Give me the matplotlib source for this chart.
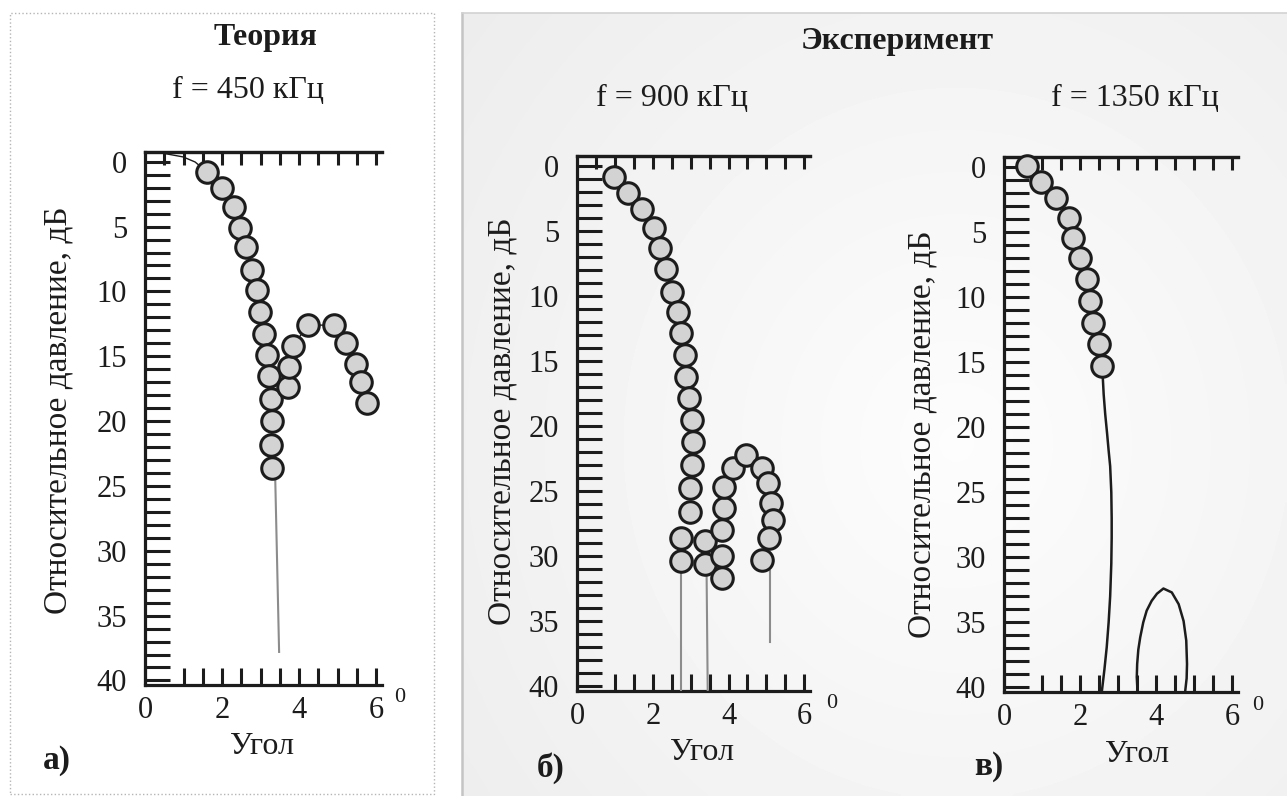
import numpy as np
import matplotlib
matplotlib.use("Agg")
import matplotlib.pyplot as plt
from matplotlib.ticker import MultipleLocator, FixedLocator, NullFormatter
from matplotlib.patches import Rectangle
from matplotlib.lines import Line2D

plt.rcParams['font.family'] = ['Liberation Serif', 'DejaVu Serif']

W, H = 1287, 796

# --- panel a: theory, 450 kHz ---
a_main_x = [1.61, 2.00, 2.31, 2.47, 2.62, 2.78, 2.91, 2.99, 3.09, 3.17, 3.22, 3.27, 3.30, 3.27, 3.30]
a_main_y = [0.79, 2.02, 3.48, 5.10, 6.56, 8.33, 9.87, 11.56, 13.25, 14.94, 16.56, 18.33, 20.02, 21.87, 23.63]
a_lobe_x = [3.71, 3.74, 3.84, 4.23, 4.91, 5.22, 5.48, 5.61, 5.77]
a_lobe_y = [17.4, 15.8, 14.2, 12.6, 12.6, 14.0, 15.6, 17.0, 18.6]
a_start_x = [0.44, 0.99, 1.30, 1.61]
a_start_y = [-0.67, -0.37, 0.02, 0.79]
a_drop_x = [3.38, 3.48]
a_drop_y = [24.5, 37.8]

# --- panel b: experiment, 900 kHz ---
b_main_x = [0.97, 1.34, 1.71, 2.03, 2.18, 2.34, 2.50, 2.66, 2.74, 2.84, 2.89, 2.95, 3.03, 3.05,
            3.03, 2.97, 2.97, 2.74, 2.74]
b_main_y = [0.87, 2.10, 3.33, 4.79, 6.33, 7.94, 9.71, 11.25, 12.87, 14.56, 16.25, 17.87, 19.56, 21.25,
            23.02, 24.79, 26.63, 28.56, 30.33]
b_pair_x = [3.37, 3.37]
b_pair_y = [28.8, 30.56]
b_lobe_x = [3.82, 3.82, 3.82, 3.89, 3.89, 4.11, 4.47, 4.89, 5.03, 5.13, 5.18, 5.08, 4.89]
b_lobe_y = [31.7, 30.0, 28.0, 26.3, 24.7, 23.25, 22.25, 23.2, 24.4, 25.9, 27.25, 28.6, 30.3]
b_drops = [([2.74, 2.74], [31.1, 40.35]),
           ([3.42, 3.45], [31.1, 40.35]),
           ([5.10, 5.10], [31.1, 36.6])]

# --- panel c: experiment, 1350 kHz ---
c_pts_x = [0.61, 0.97, 1.37, 1.71, 1.82, 2.00, 2.18, 2.26, 2.34, 2.50, 2.58]
c_pts_y = [-0.05, 1.2, 2.4, 3.9, 5.5, 7.0, 8.6, 10.3, 12.0, 13.6, 15.3]
c_line_x = [2.58, 2.62, 2.66, 2.71, 2.75, 2.79, 2.82, 2.83, 2.83, 2.82, 2.79, 2.75, 2.70, 2.64, 2.57]
c_line_y = [15.3, 17.5, 19.0, 20.5, 21.8, 23.0, 25.0, 27.0, 28.5, 30.5, 33.0, 35.0, 36.9, 38.6, 40.35]
c_arch_x = [3.51, 3.49, 3.50, 3.53, 3.58, 3.66, 3.75, 3.88, 4.02, 4.19, 4.41, 4.59, 4.72, 4.79, 4.81, 4.80, 4.76]
c_arch_y = [40.35, 39.2, 38.2, 37.1, 36.15, 35.0, 34.1, 33.35, 32.8, 32.4, 32.7, 33.6, 34.9, 36.4, 38.2, 39.3, 40.35]

y_ticks = list(range(0, 41, 5))
x_ticks = [0, 2, 4, 6]

fs = 22
ink = '#1c1c1c'


def fx(px):
    return px / W


def fy(py):
    return 1 - py / H


fig = plt.figure(figsize=(W / 100, H / 100), dpi=100)
fig.patch.set_facecolor('white')

# gray gradient box behind the experiment panels
bg = fig.add_axes([fx(462), 0, fx(W - 462), fy(13)], zorder=-5)
gx, gy = np.meshgrid(np.linspace(0, 1, 200), np.linspace(0, 1, 200))
r = np.sqrt(((gx - 0.6) / 0.8) ** 2 + ((gy - 0.55) / 0.9) ** 2)
bg.imshow(0.99 - 0.065 * np.clip(r, 0, 1), cmap='gray', vmin=0, vmax=1,
          aspect='auto', extent=[0, 1, 0, 1], interpolation='bilinear')
bg.set_axis_off()
fig.add_artist(Line2D([fx(462), fx(462)], [0, fy(13)], color='#c4c4c4', lw=1.8))
fig.add_artist(Line2D([fx(462), 1], [fy(13), fy(13)], color='#d2d2d2', lw=1.2))

# dotted frame round panel a
fig.add_artist(Rectangle((fx(10), fy(794)), fx(424), fy(13) - fy(794), fill=False,
                         ec='#b5b5b5', lw=1.0, ls=':', transform=fig.transFigure))


def make_axes(left, right, top, bottom):
    ax = fig.add_axes([fx(left), fy(bottom), fx(right - left), fy(top) - fy(bottom)])
    ax.patch.set_alpha(0)
    ax.set_xlim(0, 6.15)
    ax.set_ylim(40.35, -0.75)
    for s in ['left', 'bottom', 'top']:
        ax.spines[s].set_linewidth(2.3)
        ax.spines[s].set_color(ink)
    ax.spines['right'].set_visible(False)
    ax.yaxis.set_major_locator(FixedLocator(y_ticks))
    ax.yaxis.set_minor_locator(MultipleLocator(1))
    ax.tick_params(axis='y', which='both', direction='in', length=18, width=2.2,
                   color=ink, pad=13, labelsize=fs, labelcolor=ink)
    ax.xaxis.set_major_locator(FixedLocator(x_ticks))
    ax.xaxis.set_minor_locator(FixedLocator(np.arange(1.0, 6.01, 0.5)))
    ax.tick_params(axis='x', which='both', direction='in', length=12, width=2.2,
                   color=ink, pad=8, labelsize=fs, labelcolor=ink)
    top_ax = ax.secondary_xaxis('top')
    top_ax.set_xticks(np.arange(0.5, 6.01, 0.5))
    top_ax.xaxis.set_major_formatter(NullFormatter())
    top_ax.tick_params(direction='in', length=9, width=2.2, color=ink)
    top_ax.spines['top'].set_linewidth(2.3)
    top_ax.spines['top'].set_color(ink)
    return ax


def circles(ax, xs, ys):
    ax.plot(xs, ys, ls='none', marker='o', ms=15.5, mfc='#d3d3d3', mec=ink, mew=2.2,
            zorder=4, clip_on=False)


# panel a
ax_a = make_axes(145, 382, 152, 685)
ax_a.plot(a_start_x, a_start_y, color=ink, lw=1.0, zorder=3)
ax_a.plot(a_main_x, a_main_y, color='#555555', lw=1.0, zorder=3)
ax_a.plot(a_lobe_x, a_lobe_y, color=ink, lw=1.0, zorder=3)
ax_a.plot(a_drop_x, a_drop_y, color='#8c8c8c', lw=1.5, zorder=3)
circles(ax_a, a_main_x, a_main_y)
circles(ax_a, a_lobe_x, a_lobe_y)

# panel b
ax_b = make_axes(577, 810, 156, 691)
for dx, dy in b_drops:
    ax_b.plot(dx, dy, color='#8c8c8c', lw=1.5, zorder=3)
circles(ax_b, b_main_x, b_main_y)
circles(ax_b, b_pair_x, b_pair_y)
circles(ax_b, b_lobe_x, b_lobe_y)

# panel c
ax_c = make_axes(1004, 1238, 157, 692)
ax_c.plot(c_line_x, c_line_y, color=ink, lw=1.8, zorder=3, solid_capstyle='round')
ax_c.plot(c_arch_x, c_arch_y, color=ink, lw=1.8, zorder=3, solid_joinstyle='round')
circles(ax_c, c_pts_x, c_pts_y)

# texts
def put(px, py, s, **kw):
    kw.setdefault('fontsize', 23)
    fig.text(fx(px), fy(py), s, ha='center', va='center', color=ink, **kw)


put(265, 37, 'Теория', fontweight='bold')
put(248, 90, 'f = 450 кГц')
put(897, 42, 'Эксперимент', fontweight='bold')
put(672, 98, 'f = 900 кГц')
put(1135, 98, 'f = 1350 кГц')

for px, py in [(262, 747), (702, 752), (1137, 755)]:
    put(px, py, 'Угол')
for px, py in [(400, 698), (832, 703), (1258, 705)]:
    put(px, py, '0', fontsize=16)
for px, py, s in [(57, 760, 'а)'), (551, 768, 'б)'), (989, 767, 'в)')]:
    put(px, py, s, fontweight='bold', fontsize=24)
for px, py in [(58, 410), (502, 421), (922, 434)]:
    put(px, py, 'Относительное давление, дБ', rotation=90, fontsize=24)

fig.savefig('out.png', dpi=100)
